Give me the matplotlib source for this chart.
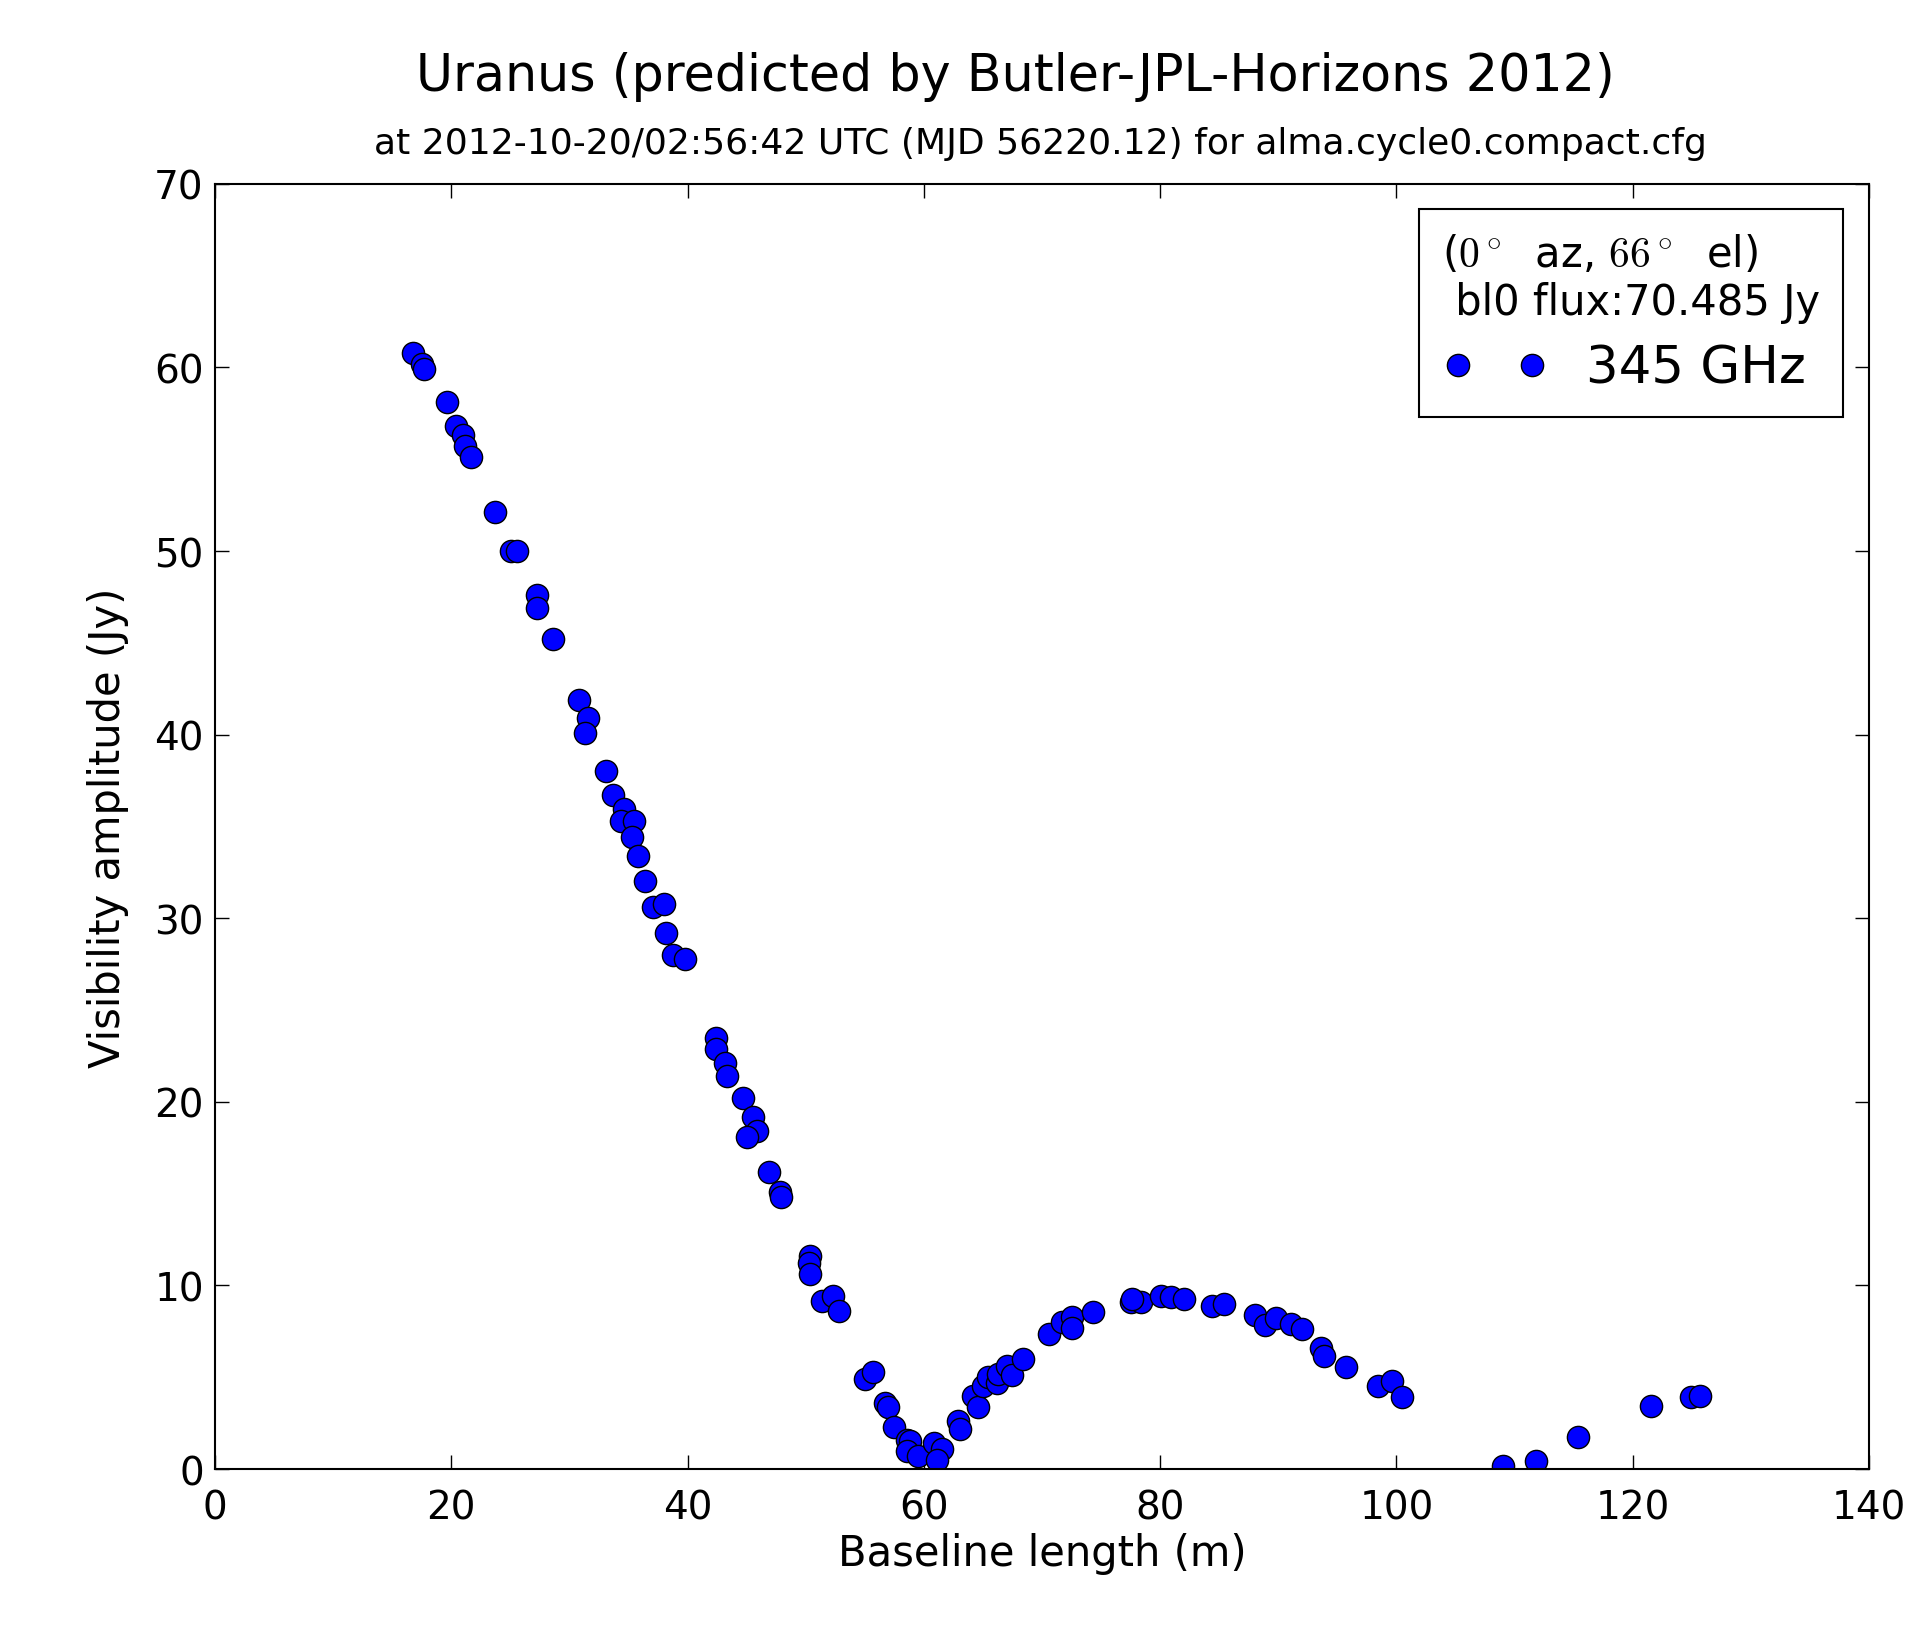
import matplotlib.pyplot as plt

# baseline length (m) and visibility amplitude (Jy)
baseline = [16.8, 17.5, 17.7, 19.6, 20.4, 21.0, 21.2, 21.7, 23.7, 25.1, 25.6,
            27.3, 27.3, 28.6, 30.8, 31.6, 31.3, 33.1, 33.7, 34.6, 34.4, 35.5,
            35.3, 35.8, 36.4, 37.1, 38.0, 38.2, 38.8, 39.8, 42.4, 42.4, 43.2,
            43.3, 44.7, 45.5, 45.9, 45.0, 46.9, 47.8, 47.9, 50.4, 50.3, 50.4,
            51.4, 52.3, 52.8, 55.0, 55.7, 56.7, 57.0, 57.5, 58.6, 58.8, 58.6,
            59.5, 60.9, 61.5, 61.1, 62.9, 63.1, 64.2, 64.6, 65.0, 65.4, 66.2,
            66.3, 67.0, 67.5, 68.4, 70.6, 71.7, 72.5, 72.5, 74.3, 77.5, 78.4,
            77.6, 80.1, 80.9, 82.0, 84.4, 85.4, 88.0, 88.9, 89.8, 91.1, 92.0,
            93.6, 93.9, 95.7, 98.4, 99.6, 100.5, 109.0, 111.8, 115.4, 121.5,
            124.9, 125.7]
amplitude = [60.8, 60.2, 59.9, 58.1, 56.8, 56.3, 55.7, 55.1, 52.1, 50.0, 50.0,
             47.6, 46.9, 45.2, 41.9, 40.9, 40.1, 38.0, 36.7, 35.95, 35.3, 35.3,
             34.4, 33.4, 32.0, 30.6, 30.8, 29.2, 28.0, 27.8, 23.5, 22.9, 22.1,
             21.4, 20.2, 19.2, 18.4, 18.1, 16.2, 15.1, 14.8, 11.6, 11.2, 10.6,
             9.15, 9.4, 8.6, 4.9, 5.3, 3.6, 3.4, 2.3, 1.6, 1.5, 1.0,
             0.7, 1.4, 1.1, 0.5, 2.6, 2.2, 4.0, 3.4, 4.5, 5.0, 4.7,
             5.2, 5.6, 5.1, 6.0, 7.35, 8.0, 8.3, 7.7, 8.55, 9.1, 9.1,
             9.26, 9.4, 9.35, 9.26, 8.9, 9.0, 8.4, 7.85, 8.2, 7.9, 7.6,
             6.6, 6.15, 5.55, 4.5, 4.8, 3.9, 0.17, 0.45, 1.72, 3.45,
             3.9, 4.0]

plt.rcParams['mathtext.fontset'] = 'cm'

fig = plt.figure(figsize=(19.19, 16.31), dpi=100)
ax = fig.add_axes([0.112, 0.0987, 0.862, 0.788])

ax.plot(baseline, amplitude, 'o', color='blue', mec='black', ms=16, mew=1.0,
        label='345 GHz')

ax.set_xlim(0, 140)
ax.set_ylim(0, 70)
ax.set_xticks(range(0, 141, 20))
ax.set_yticks(range(0, 71, 10))
ax.tick_params(direction='in', top=True, right=True, length=10, width=1,
               labelsize=28, pad=8)
ax.tick_params(axis='x', pad=14)
for s in ax.spines.values():
    s.set_linewidth(1.5)

ax.set_xlabel('Baseline length (m)', fontsize=30, labelpad=4)
ax.set_ylabel('Visibility amplitude (Jy)', fontsize=30, labelpad=18)

fig.text(0.529, 0.953, 'Uranus (predicted by Butler-JPL-Horizons 2012)',
         ha='center', va='center', fontsize=36.5)
fig.text(0.542, 0.912,
         'at 2012-10-20/02:56:42 UTC (MJD 56220.12) for alma.cycle0.compact.cfg',
         ha='center', va='center', fontsize=26)

leg = ax.legend(loc='upper right', numpoints=2, fontsize=37,
                title='($0^\\circ$  az, $66^\\circ$  el)\n bl0 flux:70.485 Jy',
                title_fontsize=30, fancybox=False, edgecolor='black',
                framealpha=1, borderaxespad=0.5, handlelength=2.05,
                handletextpad=0.75, borderpad=0.45, labelspacing=0.4)
leg.get_frame().set_linewidth(1.5)
leg._legend_box.align = 'left'

fig.savefig('out.png', dpi=100)
